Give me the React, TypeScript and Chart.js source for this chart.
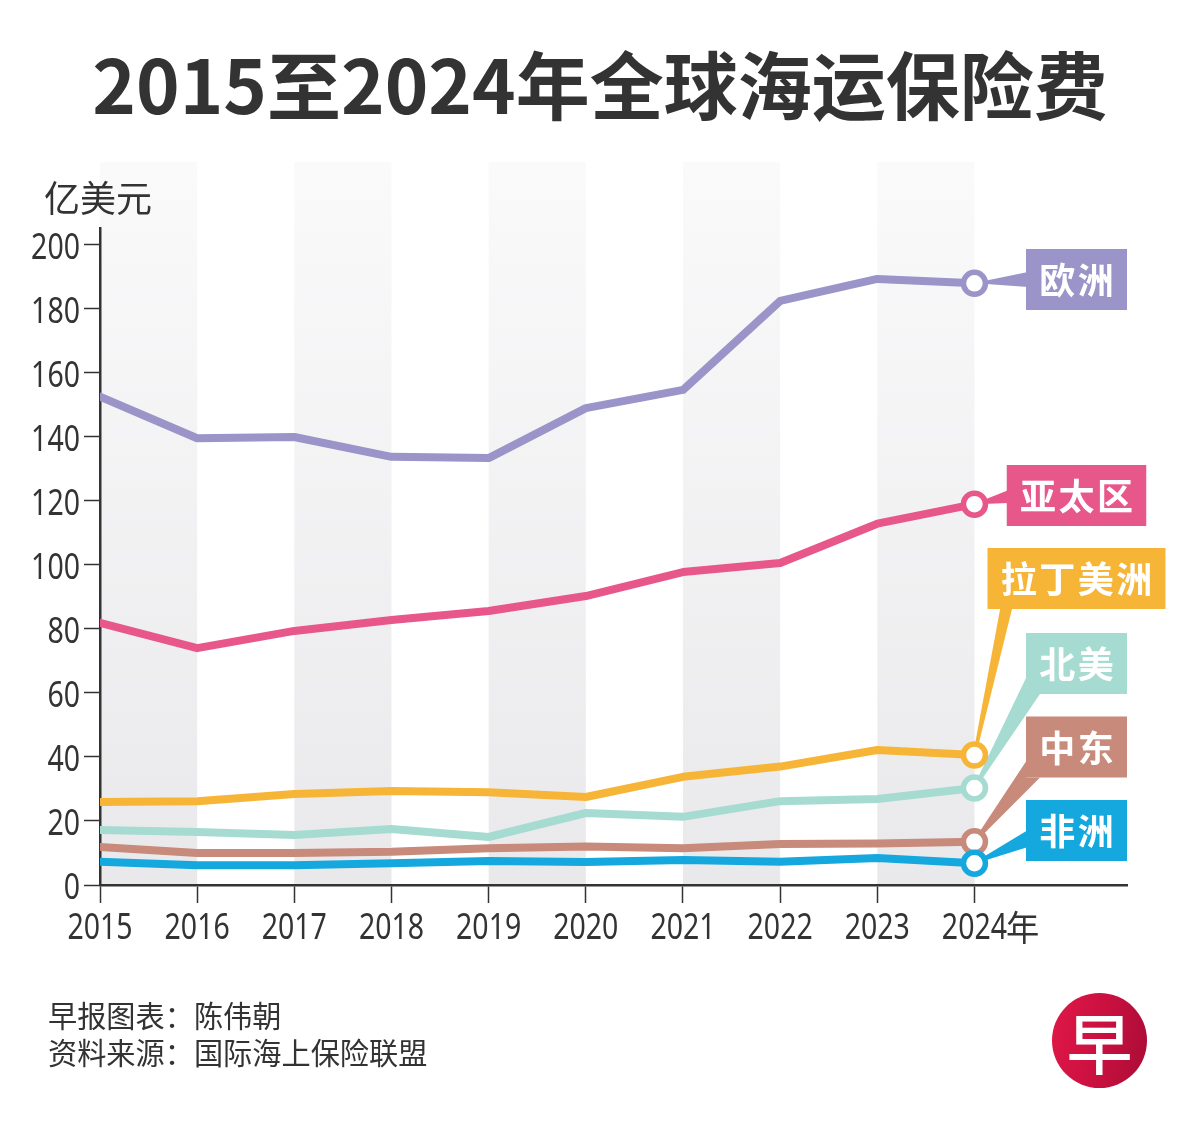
import React, { useEffect, useRef } from "react";
import { Chart, registerables } from "chart.js";

Chart.register(...registerables);

// ---------- data ----------
const years = [2015, 2016, 2017, 2018, 2019, 2020, 2021, 2022, 2023, 2024];
const europe = [152.6, 139.6, 140.0, 133.8, 133.4, 149.0, 154.7, 182.5, 189.4, 188.0];
const asiaPacific = [81.9, 74.0, 79.4, 82.8, 85.6, 90.3, 97.8, 100.6, 112.9, 119.0];
const latinAmerica = [25.9, 26.2, 28.4, 29.4, 29.0, 27.5, 33.8, 37.0, 42.2, 40.6];
const northAmerica = [17.2, 16.6, 15.6, 17.5, 15.0, 22.5, 21.3, 26.2, 26.9, 30.3];
const middleEast = [11.9, 10.0, 10.0, 10.4, 11.5, 12.0, 11.5, 12.8, 13.0, 13.5];
const africa = [7.3, 6.2, 6.2, 6.8, 7.5, 7.2, 7.8, 7.3, 8.4, 6.8];
const seriesNames = ["欧洲", "亚太区", "拉丁美洲", "北美", "中东", "非洲"];
const seriesValues = [europe, asiaPacific, latinAmerica, northAmerica, middleEast, africa];
const yTicks = [0, 20, 40, 60, 80, 100, 120, 140, 160, 180, 200];
const lastYearSuffix = "年";
const titleText = "2015至2024年全球海运保险费";
const unitText = "亿美元";
const creditText = "早报图表：陈伟朝";
const sourceText = "资料来源：国际海上保险联盟";
const logoText = "早";

// ---------- styles ----------
const seriesColors = ["#9b94c8", "#e8578a", "#f7b538", "#a6dbd1", "#c78a7b", "#14a8df"];
const TEXT = "#333333";
const NUM_FONT = "'Noto Sans', 'Open Sans', sans-serif";
const CJK_FONT = "'Noto Sans CJK SC', 'Noto Sans', sans-serif";
const NUM_SIZE = 37;
const NUM_SQUEEZE = 0.77;
const BAND_TOP = 162;
const BOX_CX = 1076.5;
const BOX_H = 61;
const BOX_CHAR = 38.5;
const BOX_PAD = 12;
// vertical centres of the label boxes and where their pointers attach
const boxCenters = [279.5, 495.5, 578.5, 663.5, 747, 830.5];
type Anchor = { side: "left" | "bottom" | "corner"; a: number; b: number };
const boxAnchors: Anchor[] = [
  { side: "left", a: 23, b: 38 },
  { side: "left", a: 25, b: 38 },
  { side: "bottom", a: 13, b: 25 },
  { side: "corner", a: 16, b: 14 },
  { side: "corner", a: 16, b: 14 },
  { side: "left", a: 30, b: 47 },
];

function squeezedText(ctx: CanvasRenderingContext2D, text: string, x: number, y: number, align: CanvasTextAlign, sx: number) {
  ctx.save();
  ctx.translate(x, y);
  ctx.scale(sx, 1);
  ctx.textAlign = align;
  ctx.fillText(text, 0, 0);
  ctx.restore();
}

const decorPlugin = {
  id: "decor",
  beforeDraw(chart: any) {
    const { ctx, chartArea } = chart;
    const x = chart.scales.x;
    const g = ctx.createLinearGradient(0, BAND_TOP, 0, chartArea.bottom);
    g.addColorStop(0, "#fafafb");
    g.addColorStop(1, "#e9e9eb");
    ctx.save();
    ctx.fillStyle = g;
    for (let i = 0; i + 1 < years.length; i += 2) {
      const x0 = x.getPixelForValue(years[i]);
      const x1 = x.getPixelForValue(years[i + 1]);
      ctx.fillRect(x0, BAND_TOP, x1 - x0, chartArea.bottom - BAND_TOP);
    }
    ctx.restore();
  },
  beforeDatasetsDraw(chart: any) {
    const { ctx } = chart;
    ctx.save();
    seriesNames.forEach((name, i) => {
      const meta = chart.getDatasetMeta(i);
      const pt = meta.data[meta.data.length - 1];
      const w = name.length * BOX_CHAR + BOX_PAD * 2;
      const left = BOX_CX - w / 2;
      const top = boxCenters[i] - BOX_H / 2;
      const bottom = top + BOX_H;
      const an = boxAnchors[i];
      ctx.fillStyle = seriesColors[i];
      ctx.beginPath();
      ctx.moveTo(pt.x - 1.5, pt.y);
      if (an.side === "left") {
        ctx.lineTo(left + 2, top + an.a);
        ctx.lineTo(left + 2, top + an.b);
        ctx.lineTo(pt.x + 1.5, pt.y);
      } else if (an.side === "bottom") {
        ctx.lineTo(left + an.a, bottom - 2);
        ctx.lineTo(left + an.b, bottom - 2);
        ctx.lineTo(pt.x + 1.5, pt.y);
      } else {
        ctx.lineTo(left, bottom - an.a);
        ctx.lineTo(left, bottom);
        ctx.lineTo(left + an.b, bottom);
        ctx.lineTo(pt.x + 1.5, pt.y);
      }
      ctx.closePath();
      ctx.fill();
      ctx.fillRect(left, top, w, BOX_H);
      ctx.fillStyle = "#ffffff";
      ctx.font = `700 36px ${CJK_FONT}`;
      ctx.textAlign = "center";
      ctx.textBaseline = "middle";
      const startX = BOX_CX - (name.length * BOX_CHAR) / 2 + BOX_CHAR / 2;
      for (let c = 0; c < name.length; c++) {
        ctx.fillText(name[c], startX + c * BOX_CHAR, boxCenters[i] + 1);
      }
    });
    ctx.restore();
  },
  afterDraw(chart: any) {
    const { ctx, chartArea } = chart;
    const x = chart.scales.x;
    const y = chart.scales.y;
    ctx.save();
    ctx.fillStyle = TEXT;
    ctx.textBaseline = "alphabetic";
    ctx.font = `${NUM_SIZE}px ${NUM_FONT}`;
    // y tick labels
    y.ticks.forEach((t: any) => {
      const py = y.getPixelForValue(t.value);
      squeezedText(ctx, String(t.value), chartArea.left - 20, py + 14, "right", NUM_SQUEEZE);
    });
    // x tick labels
    const baseY = chartArea.bottom + 54;
    x.ticks.forEach((t: any) => {
      const px = x.getPixelForValue(t.value);
      squeezedText(ctx, String(t.value), px, baseY, "center", NUM_SQUEEZE);
    });
    const last = years[years.length - 1];
    const w = ctx.measureText(String(last)).width * NUM_SQUEEZE;
    const px = x.getPixelForValue(last) + w / 2 - 1;
    ctx.font = `35px ${CJK_FONT}`;
    squeezedText(ctx, lastYearSuffix, px, baseY + 2, "left", 0.95);
    ctx.restore();
  },
};

export default function App() {
  const canvasRef = useRef<HTMLCanvasElement | null>(null);

  useEffect(() => {
    if (!canvasRef.current) return;
    const datasets = seriesNames.map((name, i) => ({
      label: name,
      data: years.map((yr, k) => ({ x: yr, y: seriesValues[i][k] })),
      borderColor: seriesColors[i],
      backgroundColor: "#ffffff",
      borderWidth: 8,
      borderJoinStyle: "round" as const,
      borderCapStyle: "round" as const,
      tension: 0,
      pointRadius: years.map((_, k) => (k === years.length - 1 ? 11 : 0)),
      pointHoverRadius: years.map((_, k) => (k === years.length - 1 ? 11 : 0)),
      pointBorderWidth: 5.5,
      pointBackgroundColor: "#ffffff",
      pointBorderColor: seriesColors[i],
      order: seriesNames.length - i,
    }));

    const chart = new Chart(canvasRef.current, {
      type: "line",
      data: { datasets },
      options: {
        animation: false,
        responsive: false,
        devicePixelRatio: 1,
        events: [],
        layout: { padding: { top: 228, right: 73, left: 0, bottom: 0 } },
        plugins: { legend: { display: false }, tooltip: { enabled: false } },
        scales: {
          x: {
            type: "linear",
            min: 2015,
            max: 2025.57,
            afterBuildTicks: (s: any) => {
              s.ticks = years.map((v) => ({ value: v }));
            },
            afterFit: (s: any) => {
              s.height = 255;
            },
            grid: {
              drawOnChartArea: false,
              drawTicks: true,
              tickLength: 18,
              tickWidth: 1.5,
              tickColor: TEXT,
            },
            border: { display: true, color: TEXT, width: 2.5 },
            ticks: { display: false },
          },
          y: {
            type: "linear",
            min: 0,
            max: 205.3,
            afterBuildTicks: (s: any) => {
              s.ticks = yTicks.map((v) => ({ value: v }));
            },
            afterFit: (s: any) => {
              s.width = 100;
            },
            grid: {
              drawOnChartArea: false,
              drawTicks: true,
              tickLength: 16,
              tickWidth: 1.5,
              tickColor: TEXT,
            },
            border: { display: true, color: TEXT, width: 2.5 },
            ticks: { display: false },
          },
        },
      },
      plugins: [decorPlugin],
    });
    return () => chart.destroy();
  }, []);

  return (
    <div style={{ position: "absolute", left: 0, top: 0, width: 1200, height: 1140, background: "#fff", overflow: "hidden" }}>
      <canvas ref={canvasRef} width={1200} height={1140} style={{ position: "absolute", left: 0, top: 0, width: 1200, height: 1140 }} />
      <div
        style={{
          position: "absolute",
          left: 0,
          top: 42,
          width: 1200,
          textAlign: "center",
          fontFamily: CJK_FONT,
          fontWeight: 700,
          fontSize: 74,
          lineHeight: "80px",
          color: TEXT,
          whiteSpace: "nowrap",
        }}
      >
        {titleText}
      </div>
      <div
        style={{
          position: "absolute",
          left: 44,
          top: 176,
          fontFamily: CJK_FONT,
          fontSize: 36,
          lineHeight: "40px",
          color: TEXT,
          whiteSpace: "nowrap",
        }}
      >
        {unitText}
      </div>
      <div
        style={{
          position: "absolute",
          left: 48,
          top: 996,
          fontFamily: CJK_FONT,
          fontSize: 29.2,
          lineHeight: "37px",
          color: TEXT,
          whiteSpace: "nowrap",
        }}
      >
        <div>{creditText}</div>
        <div>{sourceText}</div>
      </div>
      <div
        style={{
          position: "absolute",
          left: 1052,
          top: 993,
          width: 95,
          height: 95,
          borderRadius: "50%",
          background: "linear-gradient(100deg, #e01848 0%, #c8103f 55%, #a80c36 100%)",
          color: "#fff",
          fontFamily: CJK_FONT,
          fontWeight: 500,
          fontSize: 66,
          lineHeight: "95px",
          textAlign: "center",
        }}
      >
        {logoText}
      </div>
    </div>
  );
}
